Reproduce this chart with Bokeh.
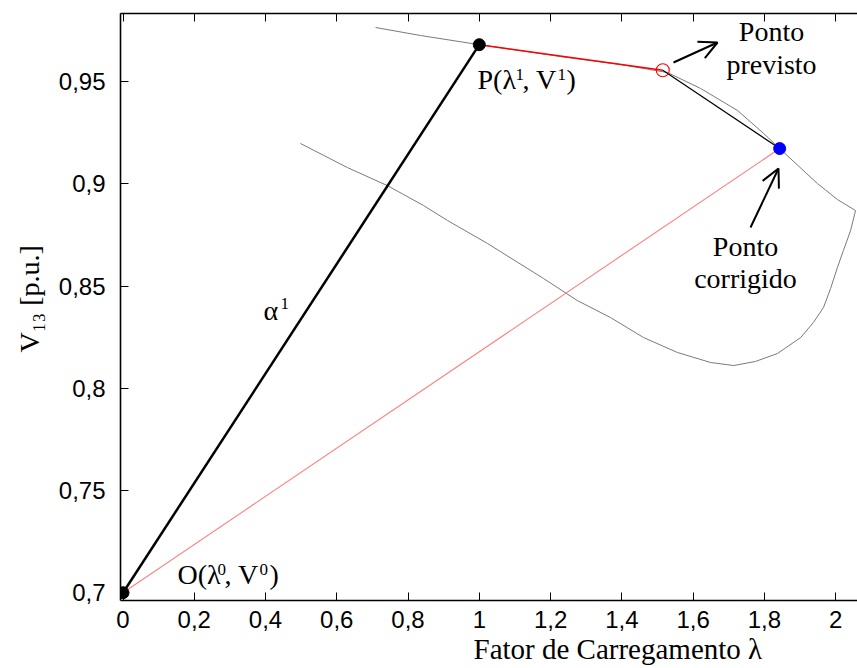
import math
from bokeh.plotting import figure
from bokeh.models import LinearAxis, FixedTicker, Label, Arrow, OpenHead, Range1d, Title
from bokeh.embed import file_html
from bokeh.resources import INLINE

# ---- data -------------------------------------------------------------
# PV curve (loading factor lambda vs. V13), upper branch then lower branch
curve_lam = [0.709, 0.835, 1.000, 1.228, 1.396, 1.528, 1.621, 1.725, 1.798, 1.843,
             1.949, 2.005, 2.056, 2.042, 2.022, 2.005, 1.986, 1.966, 1.938, 1.902,
             1.837, 1.775, 1.714, 1.649, 1.556, 1.461, 1.368, 1.275, 1.180, 1.023,
             0.911, 0.843, 0.742, 0.630, 0.498]
curve_v = [0.9764, 0.9725, 0.9680, 0.9622, 0.9583, 0.9544, 0.9466, 0.9358, 0.9246, 0.9172,
           0.9001, 0.8923, 0.8869, 0.8771, 0.8674, 0.8590, 0.8488, 0.8395, 0.8322, 0.8248,
           0.8170, 0.8131, 0.8111, 0.8126, 0.8175, 0.8248, 0.8346, 0.8429, 0.8537, 0.8708,
           0.8820, 0.8894, 0.8991, 0.9079, 0.9197]

# continuation-method points
lam0, v0 = 0.0, 0.700          # O (initial point)
lam1, v1 = 1.0, 0.968          # P (current point)
lam_prev, v_prev = 1.515, 0.9555   # predicted point
lam_corr, v_corr = 1.843, 0.9172   # corrected point

x_ticks = [0, 0.2, 0.4, 0.6, 0.8, 1.0, 1.2, 1.4, 1.6, 1.8, 2.0]
x_tick_labels = ["0", "0,2", "0,4", "0,6", "0,8", "1", "1,2", "1,4", "1,6", "1,8", "2"]
y_ticks = [0.7, 0.75, 0.8, 0.85, 0.9, 0.95]
y_tick_labels = ["0,7", "0,75", "0,8", "0,85", "0,9", "0,95"]

# ---- figure -----------------------------------------------------------
X0PX, XS = 122.5, 356.3
Y95PX, YS = 81.0, 2045.0


def px(xp, yp):
    return (xp - X0PX) / XS, 0.95 - (yp - Y95PX) / YS


xmin, ymax = px(120, 13)
xmax, ymin = px(857, 600)

p = figure(width=857, height=668, output_backend="svg", toolbar_location=None,
           x_range=Range1d(xmin, xmax), y_range=Range1d(ymin, ymax),
           min_border_left=120, min_border_right=0, min_border_top=13, min_border_bottom=68,
           x_axis_location=None, y_axis_location=None)
p.outline_line_color = None
p.background_fill_color = "white"
p.border_fill_color = "white"
p.xgrid.visible = False
p.ygrid.visible = False


def style_axis(ax, ticks, labels, standoff, show_labels=True):
    ax.ticker = FixedTicker(ticks=ticks)
    ax.major_label_overrides = {t: l for t, l in zip(ticks, labels)}
    ax.major_tick_in = 8
    ax.major_tick_out = 0
    ax.minor_tick_line_color = None
    ax.axis_line_width = 1.6
    ax.axis_line_color = "black"
    ax.major_tick_line_color = "black"
    ax.major_tick_line_width = 1
    ax.major_label_text_font = "Liberation Sans"
    ax.major_label_text_font_size = "24px" if show_labels else "0px"
    ax.major_label_text_color = "black"
    ax.major_label_standoff = standoff


xaxis = LinearAxis()
style_axis(xaxis, x_ticks, x_tick_labels, 10)
p.add_layout(xaxis, "below")

yaxis = LinearAxis()
style_axis(yaxis, y_ticks, y_tick_labels, 15)
p.add_layout(yaxis, "left")

topaxis = LinearAxis()
style_axis(topaxis, x_ticks, ["" for _ in x_ticks], 0, show_labels=False)
p.add_layout(topaxis, "above")

# axis titles (as titles so they can sit off-centre like the reference)
p.add_layout(Title(text="Fator de Carregamento λ", text_font="Liberation Serif",
                   text_font_size="29px", text_font_style="normal", text_color="black",
                   align="left", offset=353, standoff=0), "below")
p.add_layout(Title(text="V₁₃ [p.u.]", text_font="Liberation Serif",
                   text_font_size="28px", text_font_style="normal", text_color="black",
                   align="left", offset=248, standoff=21), "left")

# ---- glyphs -----------------------------------------------------------
p.line(curve_lam, curve_v, line_color="#7a7a7a", line_width=1)
p.line([lam0, lam_corr], [v0, v_corr], line_color="#ff8080", line_width=1.1)
p.line([lam0, lam1], [v0, v1], line_color="black", line_width=2.5)
p.line([lam1, lam_prev], [v1, v_prev], line_color="#ff0000", line_width=1.5)
p.line([lam_prev, lam_corr], [v_prev, v_corr], line_color="black", line_width=1.2)
p.scatter([lam0, lam1], [v0, v1], size=12, fill_color="black", line_color="black")
p.scatter([lam_prev], [v_prev], size=13, fill_color=None, line_color="#ff0000", line_width=1.1)
p.scatter([lam_corr], [v_corr], size=12, fill_color="#0000ff", line_color="#0000ff")

# arrows
ax0, ay0 = px(673, 62)
ax1, ay1 = px(717, 42)
p.add_layout(Arrow(end=OpenHead(size=18, line_width=2), x_start=ax0, y_start=ay0,
                   x_end=ax1, y_end=ay1, line_width=2))
bx0, by0 = px(750, 227)
bx1, by1 = px(778, 168)
p.add_layout(Arrow(end=OpenHead(size=18, line_width=2), x_start=bx0, y_start=by0,
                   x_end=bx1, y_end=by1, line_width=2))


# ---- texts ------------------------------------------------------------
def lab(xp, yp_base, text, size=28, align="left"):
    # yp_base: desired alphabetic baseline (image px); place by vertical middle
    x, y = px(xp, yp_base - 0.3375 * size)
    p.add_layout(Label(x=x, y=y, text=text, text_font="Liberation Serif",
                       text_font_size=f"{size}px", text_align=align,
                       text_baseline="middle", text_color="black"))


# P(λ1, V1)
lab(477, 88, "P(λ")
lab(515, 80, "1", 17)
lab(522, 88, ", V")
lab(557, 80, "1", 17)
lab(566, 88, ")")
# O(λ0, V0)
lab(177, 583, "O(λ")
lab(217, 575, "0", 17)
lab(224, 583, ", V")
lab(259, 575, "0", 17)
lab(269, 583, ")")
# α1
lab(263, 319, "α")
lab(280, 309, "1", 17)
# annotations
lab(771, 40, "Ponto", align="center")
lab(771, 73, "previsto", align="center")
lab(745, 255, "Ponto", align="center")
lab(745, 287, "corrigido", align="center")

open("out.html", "w").write(file_html(p, INLINE))
